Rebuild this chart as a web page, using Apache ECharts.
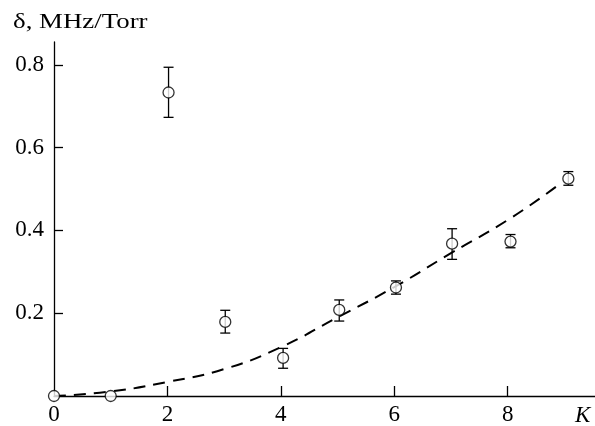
<!DOCTYPE html>
<html>
<head>
<meta charset="utf-8">
<script src="https://cdn.jsdelivr.net/npm/echarts@6/dist/echarts.min.js"></script>
<style>
html,body{margin:0;padding:0;background:#fff;}
#chart{width:595px;height:426px;}
</style>
</head>
<body>
<div id="chart"></div>
<script>
// Measured points (K, delta)
const pointK     = [0, 1, 2.02, 3.02, 4.04, 5.03, 6.03, 7.02, 8.05, 9.07];
const pointDelta = [0, 0, 0.733, 0.179, 0.092, 0.208, 0.262, 0.368, 0.373, 0.525];
const errLow     = [null, null, 0.673, 0.152, 0.067, 0.181, 0.246, 0.330, 0.358, 0.509];
const errHigh    = [null, null, 0.794, 0.207, 0.115, 0.232, 0.278, 0.404, 0.390, 0.542];
// Dashed fitted curve
const curveK     = [0, 1, 2, 3, 4, 5, 6, 7, 8, 8.85];
const curveDelta = [0, 0.011, 0.034, 0.065, 0.118, 0.19, 0.263, 0.345, 0.425, 0.505];
// Ticks / labels
const xTicks  = [2, 4, 6, 8];
const xLabels = [0, 2, 4, 6, 8];
const yTicks  = [0.2, 0.4, 0.6, 0.8];
const yLabels = ['0.2', '0.4', '0.6', '0.8'];

const FONT = '"Liberation Serif", "Times New Roman", serif';

const points = pointK.map((k, i) => [k, pointDelta[i]]);
const errData = [];
pointK.forEach((k, i) => { if (errLow[i] != null) errData.push([k, errLow[i], errHigh[i]]); });
const curve = curveK.map((k, i) => [k, curveDelta[i]]);

const chart = echarts.init(document.getElementById('chart'), null, {renderer: 'canvas'});
chart.setOption({
  animation: false,
  backgroundColor: '#fff',
  grid: {left: 54, right: 0, top: 42, bottom: 29, containLabel: false},
  xAxis: {
    type: 'value', min: 0, max: 9.54,
    axisLine: {show: true, onZero: false, lineStyle: {color: '#000', width: 1.3}},
    axisTick: {show: true, inside: true, length: 10, customValues: xTicks, lineStyle: {color: '#000', width: 1.3}},
    axisLabel: {show: true, customValues: xLabels, margin: 7, color: '#000', fontFamily: FONT, fontSize: 23},
    splitLine: {show: false}
  },
  yAxis: {
    type: 'value', min: 0, max: 0.855,
    axisLine: {show: true, onZero: false, lineStyle: {color: '#000', width: 1.3}},
    axisTick: {show: true, inside: true, length: 9, customValues: yTicks, lineStyle: {color: '#000', width: 1.3}},
    axisLabel: {show: true, customValues: yTicks, margin: 10, color: '#000', fontFamily: FONT, fontSize: 23,
      formatter: v => yLabels[yTicks.findIndex(t => Math.abs(t - v) < 1e-6)] || ''},
    splitLine: {show: false}
  },
  graphic: [
    {type: 'text', x: 13, y: 11, scaleX: 1.22, style: {text: 'δ, MHz/Torr', fill: '#000', font: '22px ' + FONT}},
    {type: 'text', left: 575, top: 404, style: {text: 'K', fill: '#000', font: 'italic 23px ' + FONT}}
  ],
  series: [
    {
      type: 'line', data: curve, smooth: true, symbol: 'none', z: 2,
      lineStyle: {color: '#000', width: 2, type: [12, 8]}
    },
    {
      type: 'custom', data: errData, z: 3,
      renderItem: function (params, api) {
        const x = api.value(0);
        const lo = api.coord([x, api.value(1)]);
        const hi = api.coord([x, api.value(2)]);
        const w = 5;
        const st = {stroke: '#000', lineWidth: 1.3};
        return {type: 'group', children: [
          {type: 'line', shape: {x1: lo[0], y1: lo[1], x2: hi[0], y2: hi[1]}, style: st},
          {type: 'line', shape: {x1: lo[0] - w, y1: lo[1], x2: lo[0] + w, y2: lo[1]}, style: st},
          {type: 'line', shape: {x1: hi[0] - w, y1: hi[1], x2: hi[0] + w, y2: hi[1]}, style: st}
        ]};
      }
    },
    {
      type: 'scatter', data: points, symbol: 'circle', symbolSize: 11, z: 4,
      itemStyle: {color: '#fff', borderColor: '#000', borderWidth: 1.3}
    }
  ]
});
</script>
</body>
</html>
